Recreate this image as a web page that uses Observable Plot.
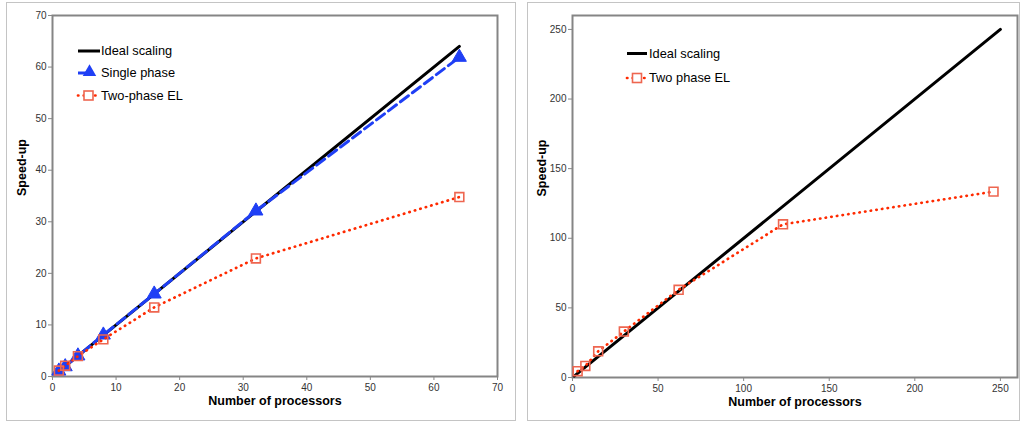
<!DOCTYPE html>
<html>
<head>
<meta charset="utf-8">
<script src="https://cdn.jsdelivr.net/npm/d3@7"></script>
<script src="https://cdn.jsdelivr.net/npm/@observablehq/plot@0.6"></script>
<style>
  html, body { margin: 0; padding: 0; background: #fff; }
  #root { position: relative; width: 1022px; height: 421px; overflow: hidden; font-family: "Liberation Sans", Arial, sans-serif; }
  .panel { position: absolute; border: 1.5px solid #c4c4c4; box-sizing: border-box; }
  .chart { position: absolute; top: 0; }
  .chart svg { overflow: visible; }
  svg [aria-label="x-axis tick"] path, svg [aria-label="y-axis tick"] path { stroke: #888; }
  #legend { position: absolute; left: 0; top: 0; pointer-events: none; }
</style>
</head>
<body>
<div id="root">
  <div class="panel" style="left:6px;top:2px;width:510px;height:419px;"></div>
  <div class="panel" style="left:527px;top:2px;width:493px;height:419px;"></div>
  <div class="chart" id="left" style="left:0px;"></div>
  <div class="chart" id="right" style="left:520px;"></div>
</div>
<script>
// ---- Data ----
const procsLeft = [1, 2, 4, 8, 16, 32, 64];
const singlePhase = [1.07, 1.9, 4.0, 8.05, 16.0, 32.1, 61.9];
const twoPhaseLeft = [1.15, 2.1, 3.95, 7.2, 13.4, 22.9, 34.8];
const idealLeftX = [1, 64];
const idealLeftY = [1, 64];

const procsRight = [3, 7.5, 15, 30, 62, 123, 246];
const twoPhaseRight = [4.5, 8.3, 18.8, 33, 63, 110, 133.5];
const idealRightX = [1, 250];
const idealRightY = [1, 250];

const ticksLeft = [0, 10, 20, 30, 40, 50, 60, 70];
const ticksRight = [0, 50, 100, 150, 200, 250];

const xTitle = "Number of processors";
const yTitle = "Speed-up";
const legendLeft = ["Ideal scaling", "Single phase", "Two-phase EL"];
const legendRight = ["Ideal scaling", "Two phase EL"];

const BLUE = "#1f3ff5", RED = "#ff2a00", SQ = "#ee6650", GRAY = "#858585";
const FONT = "Liberation Sans, Arial, sans-serif";
const DOTS = "0.4,5.3";

const zip = (xs, ys) => xs.map((x, i) => ({x, y: ys[i]}));

function titles() {
  return [
    Plot.text([xTitle], {frameAnchor: "bottom", text: d => d, dy: 28, fontWeight: "bold", fontSize: 12.5, fill: "#000"}),
    Plot.text([yTitle], {frameAnchor: "left", text: d => d, rotate: -90, dx: -31, fontWeight: "bold", fontSize: 12.5, fill: "#000"})
  ];
}

const common = {
  height: 421,
  marginTop: 15,
  style: {fontFamily: FONT, fontSize: "10px", color: "#333", background: "transparent"}
};

const left = Plot.plot({
  ...common,
  width: 515,
  marginLeft: 52,
  marginRight: 18,
  marginBottom: 45,
  x: {domain: [0, 70], ticks: ticksLeft, tickSize: 4, tickPadding: 3, label: null},
  y: {domain: [0, 70], ticks: ticksLeft, tickSize: 4, tickPadding: 2, label: null},
  marks: [
    Plot.frame({stroke: GRAY, strokeWidth: 2}),
    Plot.line(zip(idealLeftX, idealLeftY), {x: "x", y: "y", stroke: "#000", strokeWidth: 3}),
    Plot.line(zip(procsLeft, singlePhase), {x: "x", y: "y", stroke: BLUE, strokeWidth: 3, strokeDasharray: "10,5"}),
    Plot.dot(zip(procsLeft, singlePhase), {x: "x", y: "y", symbol: "triangle", r: 5.2, fill: BLUE, stroke: BLUE, strokeWidth: 1}),
    Plot.line(zip(procsLeft, twoPhaseLeft), {x: "x", y: "y", stroke: RED, strokeWidth: 2.7, strokeDasharray: DOTS, strokeLinecap: "round"}),
    Plot.dot(zip(procsLeft, twoPhaseLeft), {x: "x", y: "y", symbol: "square", r: 5, fill: "none", stroke: SQ, strokeWidth: 1.6}),
    ...titles()
  ]
});
document.getElementById("left").append(left);

const right = Plot.plot({
  ...common,
  width: 502,
  marginLeft: 52,
  marginRight: 5,
  marginBottom: 44,
  x: {domain: [0, 260], ticks: ticksRight, tickSize: 4, tickPadding: 3, label: null},
  y: {domain: [0, 260], ticks: ticksRight, tickSize: 4, tickPadding: 2, label: null},
  marks: [
    Plot.frame({stroke: GRAY, strokeWidth: 2}),
    Plot.line(zip(idealRightX, idealRightY), {x: "x", y: "y", stroke: "#000", strokeWidth: 3}),
    Plot.line(zip(procsRight, twoPhaseRight), {x: "x", y: "y", stroke: RED, strokeWidth: 2.7, strokeDasharray: DOTS, strokeLinecap: "round"}),
    Plot.dot(zip(procsRight, twoPhaseRight), {x: "x", y: "y", symbol: "square", r: 5, fill: "none", stroke: SQ, strokeWidth: 1.6}),
    ...titles()
  ]
});
document.getElementById("right").append(right);

// ---- Legends (overlay, not data marks) ----
const lg = d3.select("#root").append("svg").attr("id", "legend").attr("width", 1022).attr("height", 421)
  .attr("font-family", FONT).attr("font-size", 12.8);

function entry(x0, x1, y, kind, label, tx) {
  const g = lg.append("g");
  if (kind === "ideal") {
    g.append("line").attr("x1", x0).attr("x2", x1).attr("y1", y).attr("y2", y).attr("stroke", "#000").attr("stroke-width", 3);
  } else if (kind === "single") {
    g.append("line").attr("x1", x0).attr("x2", x1 - 6).attr("y1", y).attr("y2", y).attr("stroke", BLUE).attr("stroke-width", 3);
    g.append("path").attr("d", d3.symbol(d3.symbolTriangle, Math.PI * 5 * 5)()).attr("transform", `translate(${(x0 + x1) / 2 + 1},${y - 1})`).attr("fill", BLUE);
  } else {
    g.append("line").attr("x1", x0).attr("x2", x1).attr("y1", y).attr("y2", y).attr("stroke", RED).attr("stroke-width", 2.7).attr("stroke-dasharray", DOTS).attr("stroke-linecap", "round");
    g.append("rect").attr("x", (x0 + x1) / 2 - 4.5).attr("y", y - 4.5).attr("width", 9).attr("height", 9).attr("fill", "#fff").attr("stroke", SQ).attr("stroke-width", 1.6);
  }
  g.append("text").attr("x", tx).attr("y", y).attr("dy", "0.35em").attr("fill", "#000").text(label);
}
entry(78, 100, 51, "ideal", legendLeft[0], 101);
entry(78, 99, 73, "single", legendLeft[1], 101);
entry(78, 99, 95.5, "two", legendLeft[2], 101);
entry(627, 647, 53.5, "ideal", legendRight[0], 649);
entry(627, 647, 78, "two", legendRight[1], 649);
</script>
</body>
</html>
